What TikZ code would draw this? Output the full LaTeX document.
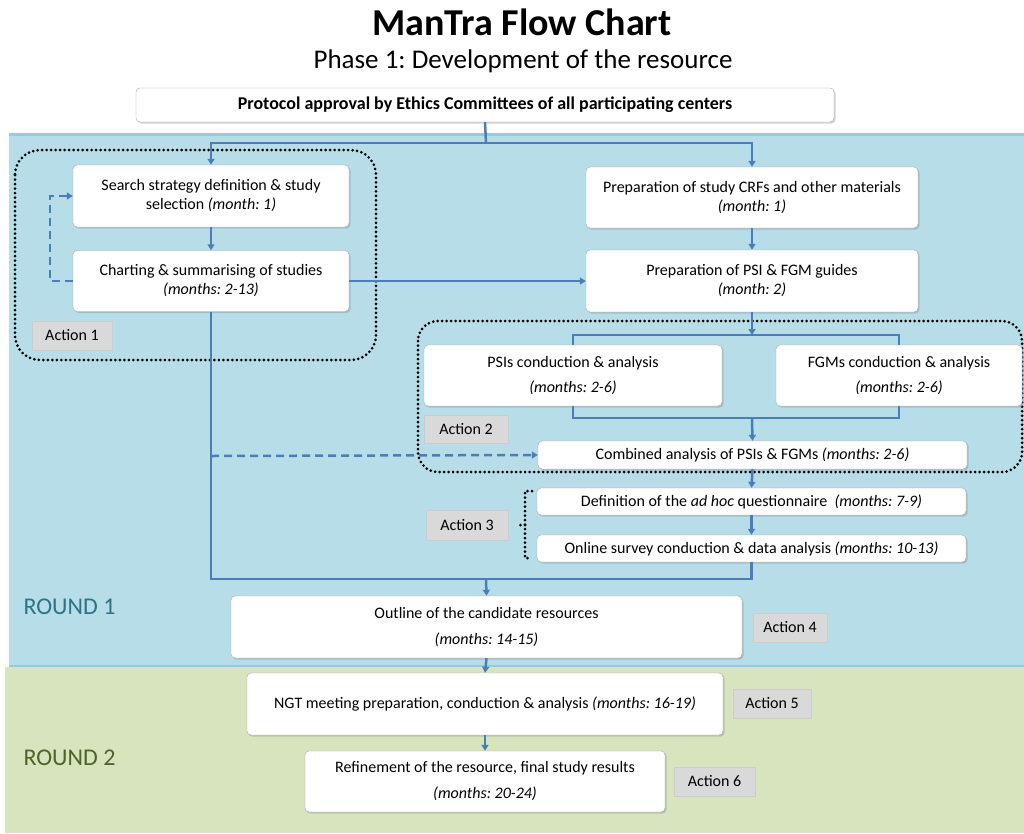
\documentclass[tikz,border=0pt]{standalone}
\usepackage{fontspec}
\setmainfont{Carlito}
\frenchspacing
\usetikzlibrary{arrows.meta,shadows}
\definecolor{bgblue}{HTML}{B7DEE8}
\definecolor{bgblueline}{HTML}{93CDDD}
\definecolor{bggreen}{HTML}{D7E4BD}
\definecolor{flowblue}{HTML}{4A7EBB}
\definecolor{roundone}{HTML}{2B7385}
\definecolor{roundtwo}{HTML}{4F6228}
\definecolor{actgray}{HTML}{D9D9D9}
\begin{document}
\begin{tikzpicture}[x=1pt,y=-1pt,
	box/.style={draw=black!35, fill=white, rounded corners=4pt, align=center, inner sep=2pt,
		drop shadow={opacity=0.35, shadow xshift=1.5pt, shadow yshift=-1.5pt},
		font=\fontsize{16}{19}\selectfont},
	action/.style={draw=black!20, fill=actgray, inner sep=2pt, font=\fontsize{16}{19}\selectfont},
	line/.style={draw=flowblue, line width=2.5pt},
	flow/.style={line, -{Triangle[length=6pt,width=7pt]}},
	dflow/.style={flow, dash pattern=on 8pt off 5pt},
	dotbox/.style={draw=black, line width=3pt, dash pattern=on 0pt off 4.5pt, line cap=round}]
	\useasboundingbox (0,0) rectangle (1024,833);

	% rounds
	\fill[bgblue] (9,134) rectangle (1024,666);
	\draw[bgblueline, line width=3pt] (9,134) -- (1024,134);
	\draw[bgblueline, line width=1.5pt] (9,666) -- (1024,666);
	\fill[bggreen] (5,667) rectangle (1024,833);
	\node[anchor=west, text=roundone, font=\fontsize{24}{28}\selectfont] (round1) at (20,607) {ROUND 1};
	\node[anchor=west, text=roundtwo, font=\fontsize{24}{28}\selectfont] (round2) at (20,758) {ROUND 2};

	% titles
	\node[font=\bfseries\fontsize{38}{44}\selectfont] (title) at (522,22) {ManTra Flow Chart};
	\node[font=\fontsize{27}{32}\selectfont] (subtitle) at (523,61) {Phase 1: Development of the resource};

	% groups
	\draw[dotbox, rounded corners=25pt] (15,150) rectangle (376,360);
	\draw[dotbox, rounded corners=20pt] (418,321) rectangle (1022,472);
	\draw[dotbox] (532,491) -- (525,491) -- (525,558) -- (532,558);
	\draw[dotbox] (525,525) -- (519,525);

	% boxes
	\node[box, minimum width=698, minimum height=34, font=\bfseries\fontsize{18}{21}\selectfont] (protocol) at (485,105)
		{Protocol approval by Ethics Committees of all participating centers};
	\node[box, minimum width=276, minimum height=62] (search) at (211,196)
		{Search strategy definition \& study\\selection \textit{(month: 1)}};
	\node[box, minimum width=276, minimum height=61] (charting) at (211,281)
		{Charting \& summarising of studies\\\textit{(months: 2-13)}};
	\node[box, minimum width=332, minimum height=61] (crf) at (752,197.5)
		{Preparation of study CRFs and other materials\\\textit{(month: 1)}};
	\node[box, minimum width=332, minimum height=62] (guides) at (752,281)
		{Preparation of PSI \& FGM guides\\\textit{(month: 2)}};
	\node[box, minimum width=298, minimum height=61] (psis) at (573,375.5)
		{PSIs conduction \& analysis\\[6pt]\textit{(months: 2-6)}};
	\node[box, minimum width=246, minimum height=61] (fgms) at (899,375.5)
		{FGMs conduction \& analysis\\[6pt]\textit{(months: 2-6)}};
	\node[box, minimum width=429, minimum height=28] (combined) at (752.5,455)
		{Combined analysis of PSIs \& FGMs \textit{(months: 2-6)}};
	\node[box, minimum width=429, minimum height=27] (definition) at (751.5,501.5)
		{Definition of the \textit{ad hoc} questionnaire\ \ \textit{(months: 7-9)}};
	\node[box, minimum width=429, minimum height=27] (online) at (751.5,548.5)
		{Online survey conduction \& data analysis \textit{(months: 10-13)}};
	\node[box, minimum width=511, minimum height=62] (outline) at (486.5,627)
		{Outline of the candidate resources\\[7pt]\textit{(months: 14-15)}};
	\node[box, minimum width=476, minimum height=62] (ngt) at (485,704)
		{NGT meeting preparation, conduction \& analysis \textit{(months: 16-19)}};
	\node[box, minimum width=360, minimum height=61] (refine) at (485,781.5)
		{Refinement of the resource, final study results\\[7pt]\textit{(months: 20-24)}};

	% actions
	\node[action, minimum width=80, minimum height=29] (act1) at (72,335.5) {Action 1};
	\node[action, minimum width=84, minimum height=28] (act2) at (466,429) {Action 2};
	\node[action, minimum width=82, minimum height=30] (act3) at (467,525) {Action 3};
	\node[action, minimum width=74, minimum height=29] (act4) at (790,627.5) {Action 4};
	\node[action, minimum width=78, minimum height=29] (act5) at (772,703.5) {Action 5};
	\node[action, minimum width=81, minimum height=29] (act6) at (714.5,781.5) {Action 6};

	% connectors
	\coordinate (split) at (486,143);
	\coordinate (fork) at (752,335);
	\coordinate (join) at (752,418);
	\coordinate (tap) at (211,456);
	\coordinate (merge) at (486,579);
	\draw[line] (protocol.south) -- (split);
	\draw[flow] (split) -| (search.north);
	\draw[flow] (split) -| (crf.north);
	\foreach \a/\b in {search/charting, crf/guides, combined/definition, definition/online, outline/ngt, ngt/refine}
	{
		\draw[flow] (\a.south) -- (\b.north);
	}
	\draw[dflow] (charting.west) -- ++(-23,0) |- (search.west);
	\draw[flow] (charting.east) -- (guides.west);
	\draw[flow] (guides.south) -- (fork);
	\draw[line] (psis.north) |- (fork) -| (fgms.north);
	\draw[line] (psis.south) |- (join) -| (fgms.south);
	\draw[flow] (join) -- (combined.north);
	\draw[dflow] (tap) -- (combined.west);
	\draw[line] (charting.south) |- (merge) -| (online.south);
	\draw[flow] (merge) -- (outline.north);
\end{tikzpicture}
\end{document}
